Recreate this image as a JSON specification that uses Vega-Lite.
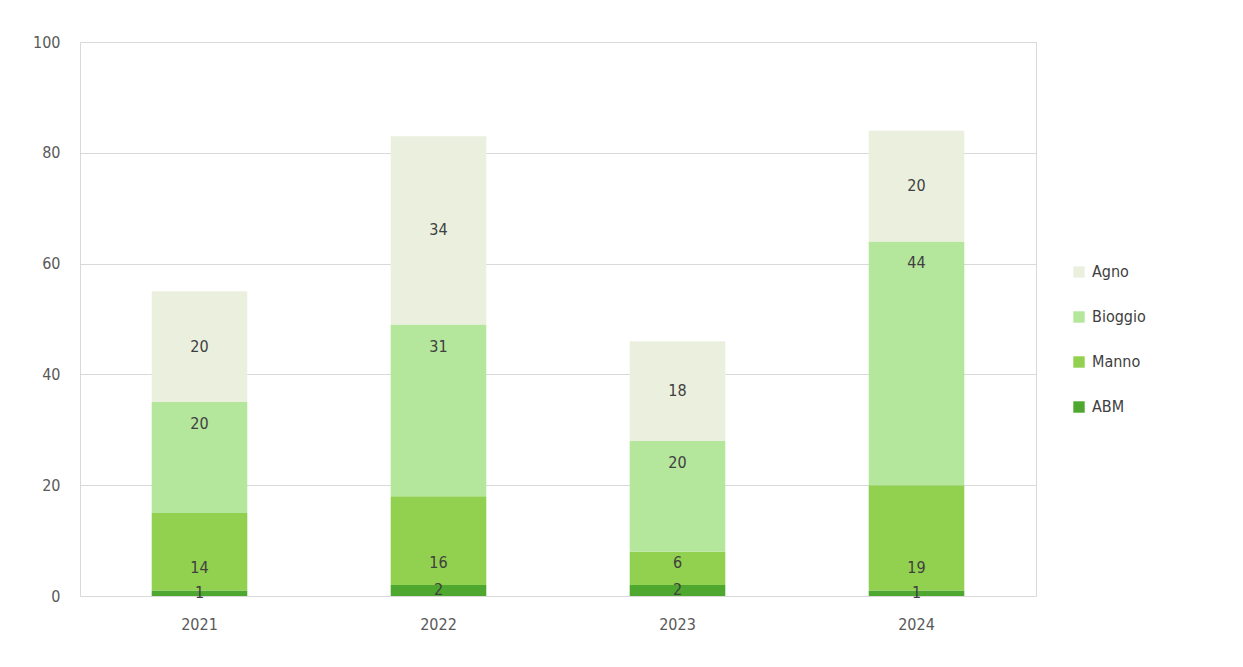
{
  "$schema": "https://vega.github.io/schema/vega-lite/v6.json",
  "autosize": {"type": "none"},
  "width": 956,
  "height": 554,
  "padding": {"left": 80, "top": 42, "right": 207, "bottom": 71},
  "background": "white",
  "data": {"values": [
    {"year": "2021", "cat": "ABM", "value": 1},
    {"year": "2021", "cat": "Manno", "value": 14},
    {"year": "2021", "cat": "Bioggio", "value": 20},
    {"year": "2021", "cat": "Agno", "value": 20},
    {"year": "2022", "cat": "ABM", "value": 2},
    {"year": "2022", "cat": "Manno", "value": 16},
    {"year": "2022", "cat": "Bioggio", "value": 31},
    {"year": "2022", "cat": "Agno", "value": 34},
    {"year": "2023", "cat": "ABM", "value": 2},
    {"year": "2023", "cat": "Manno", "value": 6},
    {"year": "2023", "cat": "Bioggio", "value": 20},
    {"year": "2023", "cat": "Agno", "value": 18},
    {"year": "2024", "cat": "ABM", "value": 1},
    {"year": "2024", "cat": "Manno", "value": 19},
    {"year": "2024", "cat": "Bioggio", "value": 44},
    {"year": "2024", "cat": "Agno", "value": 20}
  ]},
  "transform": [
    {"calculate": "indexof(['ABM','Manno','Bioggio','Agno'], datum.cat)", "as": "ord"},
    {"stack": "value", "groupby": ["year"], "sort": [{"field": "ord", "order": "ascending"}], "as": ["y0", "y1"]},
    {"calculate": "(datum.y0 + datum.y1) / 2", "as": "ymid"}
  ],
  "encoding": {
    "x": {
      "field": "year", "type": "ordinal",
      "scale": {"paddingInner": 0.6, "paddingOuter": 0.3},
      "axis": {"title": null, "labelAngle": 0, "ticks": false, "domain": false, "labelPadding": 20, "labelFontSize": 16, "labelColor": "#595959", "labelFont": "DejaVu Sans Condensed"}
    }
  },
  "layer": [
    {
      "mark": {"type": "bar"},
      "encoding": {
        "y": {"field": "y0", "type": "quantitative", "scale": {"domain": [0, 100]},
          "axis": {"title": null, "values": [0, 20, 40, 60, 80, 100], "ticks": false, "domain": false, "grid": true, "gridColor": "#D9D9D9", "labelPadding": 20, "labelFontSize": 16, "labelColor": "#595959", "labelFont": "DejaVu Sans Condensed"}},
        "y2": {"field": "y1"},
        "color": {
          "field": "cat", "type": "nominal",
          "scale": {"domain": ["Agno", "Bioggio", "Manno", "ABM"], "range": ["#EBF0DE", "#B4E69C", "#92D050", "#4EA72E"]},
          "legend": {"title": null, "orient": "none", "legendX": 991, "legendY": 222, "symbolType": "square", "symbolSize": 130, "symbolStrokeWidth": 0, "labelFontSize": 16, "labelColor": "#404040", "labelFont": "DejaVu Sans Condensed", "rowPadding": 29, "labelOffset": 5}
        }
      }
    },
    {
      "transform": [{"filter": "datum.cat == 'Agno' || datum.cat == 'ABM'"}],
      "mark": {"type": "text", "fontSize": 16, "color": "#404040", "font": "DejaVu Sans Condensed", "baseline": "middle"},
      "encoding": {"y": {"field": "ymid", "type": "quantitative"}, "text": {"field": "value"}}
    },
    {
      "transform": [{"filter": "datum.cat == 'Bioggio'"}],
      "mark": {"type": "text", "fontSize": 16, "color": "#404040", "font": "DejaVu Sans Condensed", "baseline": "middle", "dy": 22},
      "encoding": {"y": {"field": "y1", "type": "quantitative"}, "text": {"field": "value"}}
    },
    {
      "transform": [{"filter": "datum.cat == 'Manno'"}],
      "mark": {"type": "text", "fontSize": 16, "color": "#404040", "font": "DejaVu Sans Condensed", "baseline": "middle", "dy": -22},
      "encoding": {"y": {"field": "y0", "type": "quantitative"}, "text": {"field": "value"}}
    }
  ],
  "config": {"view": {"stroke": "#D9D9D9"}}
}
